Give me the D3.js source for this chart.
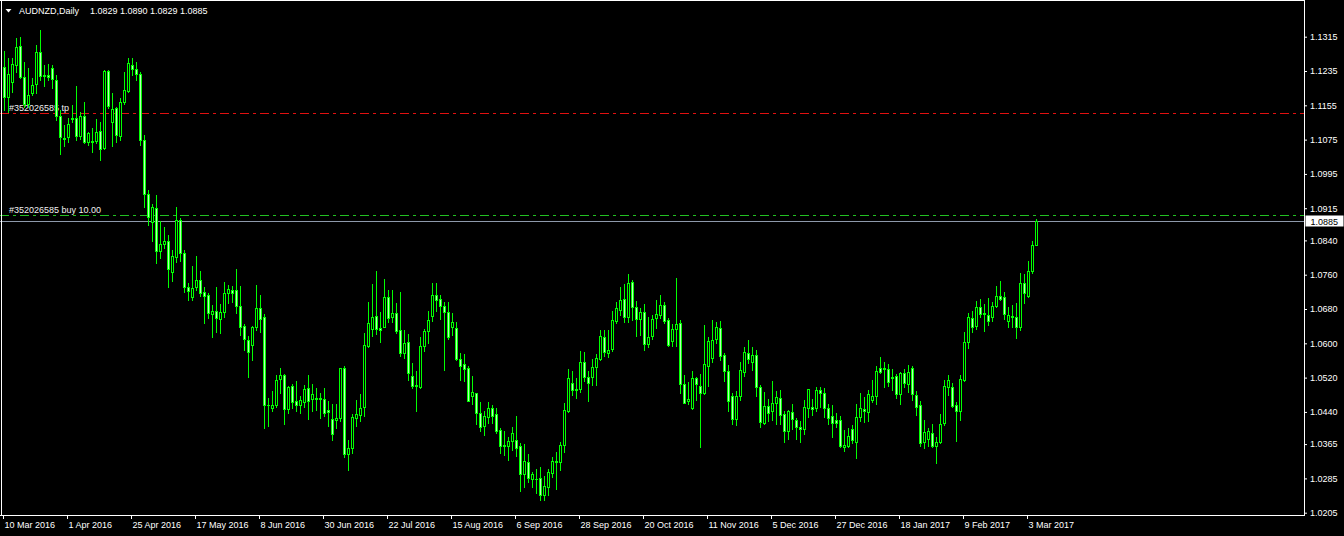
<!DOCTYPE html>
<html>
<head>
<meta charset="utf-8">
<script src="https://cdn.jsdelivr.net/npm/d3@7"></script>
<style>
  html, body { margin: 0; padding: 0; background: #000; }
  svg { display: block; }
  text { font-family: "Liberation Sans", Arial, sans-serif; font-size: 9px; }
</style>
</head>
<body>
<svg id="chart" width="1344" height="536"></svg>
<script>
// AUDNZD daily, 10 Mar 2016 .. 7 Mar 2017
const opens = [
  1.1245,1.1175,1.1210,1.1249,1.1293,1.1222,1.1157,1.1183,1.1204,1.1279,
  1.1224,1.1226,1.1241,1.1214,1.1129,1.1079,1.1080,1.1123,1.1125,1.1083,
  1.1130,1.1070,1.1070,1.1072,1.1095,1.1055,1.1235,1.1115,1.1148,1.1084,
  1.1163,1.1189,1.1249,1.1239,1.1228,1.1074,1.0948,1.0884,1.0915,1.0816,
  1.0832,1.0839,1.0767,1.0802,1.0888,1.0810,1.0732,1.0709,1.0731,1.0748,
  1.0719,1.0713,1.0668,1.0675,1.0656,1.0674,1.0717,1.0724,1.0724,1.0688,
  1.0640,1.0608,1.0596,1.0637,1.0683,1.0661,1.0455,1.0450,1.0455,1.0516,
  1.0526,1.0446,1.0500,1.0466,1.0455,1.0464,1.0496,1.0470,1.0472,1.0469,
  1.0471,1.0445,1.0423,1.0422,1.0426,1.0542,1.0343,1.0357,1.0427,1.0433,
  1.0451,1.0594,1.0633,1.0664,1.0636,1.0637,1.0707,1.0662,1.0670,1.0631,
  1.0578,1.0602,1.0524,1.0501,1.0499,1.0593,1.0629,1.0664,1.0712,1.0703,
  1.0688,1.0672,1.0637,1.0635,1.0563,1.0551,1.0542,1.0476,1.0483,1.0437,
  1.0408,1.0429,1.0449,1.0435,1.0398,1.0361,1.0361,1.0373,1.0374,1.0360,
  1.0295,1.0323,1.0284,1.0283,1.0285,1.0246,1.0266,1.0298,1.0326,1.0324,
  1.0364,1.0443,1.0507,1.0493,1.0493,1.0556,1.0521,1.0522,1.0544,1.0564,
  1.0614,1.0578,1.0587,1.0652,1.0678,1.0703,1.0662,1.0742,1.0685,1.0656,
  1.0672,1.0598,1.0618,1.0660,1.0666,1.0689,1.0654,1.0606,1.0634,1.0647,
  1.0505,1.0466,1.0448,1.0518,1.0501,1.0484,1.0548,1.0565,1.0609,1.0635,
  1.0573,1.0535,1.0477,1.0423,1.0476,1.0532,1.0577,1.0557,1.0573,1.0497,
  1.0415,1.0454,1.0441,1.0460,1.0473,1.0434,1.0396,1.0439,1.0421,1.0404,
  1.0400,1.0450,1.0451,1.0450,1.0491,1.0484,1.0448,1.0431,1.0421,1.0421,
  1.0359,1.0361,1.0400,1.0371,1.0429,1.0446,1.0439,1.0468,1.0476,1.0542,
  1.0540,1.0539,1.0520,1.0524,1.0481,1.0530,1.0505,1.0542,1.0479,1.0456,
  1.0370,1.0376,1.0392,1.0361,1.0369,1.0415,1.0497,1.0497,1.0456,1.0441,
  1.0514,1.0604,1.0658,1.0641,1.0684,1.0668,1.0665,1.0661,1.0688,1.0711,
  1.0707,1.0652,1.0662,1.0662,1.0639,1.0740,1.0711,1.0769,1.0829
];
const highs = [
  1.1282,1.1265,1.1266,1.1313,1.1314,1.1257,1.1241,1.1218,1.1296,1.1331,
  1.1249,1.1251,1.1249,1.1226,1.1144,1.1109,1.1125,1.1156,1.1200,1.1139,
  1.1162,1.1092,1.1103,1.1122,1.1117,1.1237,1.1237,1.1183,1.1150,1.1171,
  1.1233,1.1265,1.1265,1.1256,1.1233,1.1086,1.0958,1.0925,1.0946,1.0886,
  1.0871,1.0853,1.0818,1.0917,1.0892,1.0818,1.0740,1.0780,1.0804,1.0769,
  1.0731,1.0718,1.0689,1.0731,1.0691,1.0742,1.0736,1.0734,1.0773,1.0734,
  1.0644,1.0618,1.0640,1.0736,1.0712,1.0668,1.0472,1.0489,1.0526,1.0543,
  1.0529,1.0501,1.0505,1.0512,1.0476,1.0502,1.0526,1.0505,1.0495,1.0485,
  1.0496,1.0466,1.0458,1.0458,1.0543,1.0547,1.0375,1.0435,1.0468,1.0482,
  1.0623,1.0697,1.0738,1.0769,1.0672,1.0750,1.0724,1.0724,1.0695,1.0719,
  1.0631,1.0621,1.0555,1.0535,1.0614,1.0634,1.0675,1.0741,1.0741,1.0713,
  1.0697,1.0697,1.0671,1.0649,1.0577,1.0575,1.0547,1.0524,1.0485,1.0462,
  1.0442,1.0462,1.0456,1.0448,1.0402,1.0395,1.0382,1.0404,1.0431,1.0367,
  1.0365,1.0343,1.0299,1.0307,1.0312,1.0291,1.0306,1.0336,1.0346,1.0369,
  1.0460,1.0540,1.0535,1.0518,1.0582,1.0579,1.0535,1.0563,1.0575,1.0631,
  1.0631,1.0631,1.0675,1.0697,1.0732,1.0738,1.0762,1.0748,1.0699,1.0683,
  1.0692,1.0661,1.0666,1.0701,1.0713,1.0697,1.0658,1.0645,1.0752,1.0654,
  1.0526,1.0510,1.0535,1.0521,1.0529,1.0643,1.0615,1.0654,1.0650,1.0652,
  1.0577,1.0549,1.0483,1.0489,1.0557,1.0592,1.0608,1.0592,1.0584,1.0503,
  1.0487,1.0470,1.0512,1.0489,1.0491,1.0441,1.0445,1.0458,1.0425,1.0419,
  1.0468,1.0494,1.0470,1.0497,1.0497,1.0495,1.0458,1.0456,1.0437,1.0431,
  1.0398,1.0403,1.0410,1.0458,1.0483,1.0474,1.0491,1.0514,1.0547,1.0569,
  1.0557,1.0552,1.0539,1.0528,1.0534,1.0539,1.0549,1.0547,1.0489,1.0465,
  1.0421,1.0403,1.0413,1.0382,1.0435,1.0514,1.0526,1.0507,1.0464,1.0526,
  1.0627,1.0670,1.0675,1.0699,1.0703,1.0691,1.0705,1.0697,1.0734,1.0745,
  1.0719,1.0684,1.0689,1.0693,1.0763,1.0762,1.0792,1.0839,1.0890
];
const lows = [
  1.1144,1.1139,1.1187,1.1233,1.1218,1.1150,1.1152,1.1179,1.1183,1.1214,
  1.1201,1.1214,1.1195,1.1121,1.1041,1.1059,1.1070,1.1117,1.1074,1.1076,
  1.1066,1.1062,1.1047,1.1066,1.1028,1.1053,1.1148,1.1059,1.1069,1.1074,
  1.1157,1.1187,1.1226,1.1214,1.1062,1.0918,1.0876,1.0839,1.0787,1.0798,
  1.0822,1.0732,1.0746,1.0790,1.0793,1.0720,1.0701,1.0701,1.0724,1.0710,
  1.0647,1.0658,1.0615,1.0627,1.0625,1.0662,1.0693,1.0697,1.0670,1.0619,
  1.0584,1.0522,1.0560,1.0631,1.0627,1.0403,1.0407,1.0441,1.0452,1.0483,
  1.0413,1.0437,1.0448,1.0443,1.0438,1.0452,1.0423,1.0443,1.0445,1.0427,
  1.0431,1.0408,1.0375,1.0402,1.0419,1.0336,1.0305,1.0345,1.0408,1.0420,
  1.0431,1.0591,1.0617,1.0621,1.0604,1.0637,1.0650,1.0650,1.0623,1.0571,
  1.0565,1.0514,1.0496,1.0443,1.0495,1.0583,1.0600,1.0652,1.0676,1.0657,
  1.0538,1.0611,1.0619,1.0560,1.0514,1.0512,1.0465,1.0458,1.0412,1.0396,
  1.0386,1.0414,1.0414,1.0391,1.0345,1.0340,1.0328,1.0351,1.0338,1.0256,
  1.0266,1.0277,1.0264,1.0250,1.0235,1.0235,1.0246,1.0289,1.0260,1.0305,
  1.0347,1.0439,1.0480,1.0473,1.0487,1.0511,1.0466,1.0503,1.0503,1.0560,
  1.0570,1.0569,1.0583,1.0647,1.0666,1.0650,1.0650,1.0654,1.0618,1.0619,
  1.0584,1.0592,1.0610,1.0635,1.0658,1.0647,1.0594,1.0594,1.0594,1.0483,
  1.0460,1.0458,1.0447,1.0468,1.0359,1.0482,1.0501,1.0557,1.0600,1.0561,
  1.0512,1.0441,1.0412,1.0410,1.0468,1.0524,1.0554,1.0538,1.0476,1.0406,
  1.0412,1.0419,1.0421,1.0411,1.0411,1.0371,1.0378,1.0400,1.0377,1.0369,
  1.0389,1.0429,1.0433,1.0441,1.0452,1.0429,1.0412,1.0381,1.0406,1.0358,
  1.0350,1.0358,1.0367,1.0332,1.0420,1.0417,1.0420,1.0462,1.0458,1.0530,
  1.0499,1.0500,1.0491,1.0472,1.0458,1.0497,1.0487,1.0468,1.0433,1.0360,
  1.0355,1.0360,1.0358,1.0320,1.0367,1.0410,1.0480,1.0452,1.0373,1.0421,
  1.0513,1.0590,1.0627,1.0633,1.0662,1.0629,1.0643,1.0653,1.0684,1.0701,
  1.0656,1.0637,1.0639,1.0612,1.0631,1.0693,1.0709,1.0765,1.0829
];
const closes = [
  1.1175,1.1227,1.1251,1.1292,1.1222,1.1157,1.1179,1.1202,1.1279,1.1224,
  1.1226,1.1221,1.1216,1.1131,1.1080,1.1076,1.1111,1.1126,1.1084,1.1130,
  1.1070,1.1090,1.1072,1.1092,1.1052,1.1235,1.1154,1.1146,1.1086,1.1162,
  1.1191,1.1254,1.1239,1.1228,1.1074,1.0948,1.0895,1.0917,1.0816,1.0832,
  1.0839,1.0774,1.0804,1.0888,1.0810,1.0732,1.0723,1.0728,1.0748,1.0718,
  1.0710,1.0671,1.0675,1.0658,1.0672,1.0717,1.0727,1.0718,1.0688,1.0637,
  1.0609,1.0580,1.0639,1.0682,1.0656,1.0455,1.0456,1.0456,1.0514,1.0526,
  1.0446,1.0499,1.0464,1.0455,1.0468,1.0493,1.0466,1.0482,1.0469,1.0472,
  1.0438,1.0439,1.0389,1.0426,1.0542,1.0341,1.0356,1.0428,1.0435,1.0449,
  1.0596,1.0647,1.0661,1.0634,1.0632,1.0707,1.0660,1.0671,1.0629,1.0578,
  1.0600,1.0530,1.0501,1.0502,1.0593,1.0629,1.0654,1.0712,1.0701,1.0688,
  1.0674,1.0615,1.0649,1.0563,1.0547,1.0540,1.0466,1.0486,1.0438,1.0406,
  1.0431,1.0449,1.0431,1.0396,1.0361,1.0364,1.0372,1.0392,1.0357,1.0295,
  1.0326,1.0285,1.0295,1.0284,1.0246,1.0267,1.0299,1.0326,1.0323,1.0363,
  1.0445,1.0518,1.0491,1.0492,1.0556,1.0522,1.0507,1.0544,1.0565,1.0618,
  1.0580,1.0584,1.0654,1.0682,1.0701,1.0661,1.0740,1.0684,1.0656,1.0672,
  1.0598,1.0614,1.0656,1.0668,1.0689,1.0652,1.0596,1.0633,1.0644,1.0505,
  1.0461,1.0471,1.0518,1.0505,1.0484,1.0551,1.0606,1.0608,1.0637,1.0571,
  1.0536,1.0466,1.0423,1.0477,1.0538,1.0579,1.0563,1.0573,1.0497,1.0417,
  1.0454,1.0437,1.0460,1.0474,1.0433,1.0396,1.0442,1.0423,1.0406,1.0400,
  1.0451,1.0493,1.0447,1.0490,1.0484,1.0448,1.0425,1.0414,1.0414,1.0361,
  1.0363,1.0385,1.0375,1.0428,1.0448,1.0441,1.0481,1.0477,1.0535,1.0534,
  1.0542,1.0509,1.0522,1.0481,1.0531,1.0507,1.0532,1.0481,1.0452,1.0368,
  1.0394,1.0395,1.0361,1.0369,1.0413,1.0500,1.0514,1.0454,1.0441,1.0516,
  1.0602,1.0661,1.0639,1.0684,1.0668,1.0670,1.0653,1.0688,1.0711,1.0703,
  1.0668,1.0665,1.0663,1.0639,1.0740,1.0717,1.0769,1.0829,1.0885
];

// time scale labels, one every 16 bars
const dateLabels = ["10 Mar 2016","1 Apr 2016","25 Apr 2016","17 May 2016","8 Jun 2016",
  "30 Jun 2016","22 Jul 2016","15 Aug 2016","6 Sep 2016","28 Sep 2016","20 Oct 2016",
  "11 Nov 2016","5 Dec 2016","27 Dec 2016","18 Jan 2017","9 Feb 2017","3 Mar 2017"];
const labelStep = 16;

// price scale labels
const priceTicks = [1.1315,1.1235,1.1155,1.1075,1.0995,1.0915,1.0840,1.0760,
  1.0680,1.0600,1.0520,1.0440,1.0365,1.0285,1.0205];

// order levels
const tpPrice = 1.1136;
const buyPrice = 1.08985;
const bidPrice = 1.0885;
const orderId = "#352026585";
const header = ["AUDNZD,Daily", "1.0829 1.0890 1.0829 1.0885"];

const width = 1344, height = 536;
const plotRight = 1304, plotBottom = 515;
const lime = "#00ff00";
const bearFill = "#b8ffb8";

const svg = d3.select("#chart");
svg.append("rect").attr("width", width).attr("height", height).attr("fill", "#000");

const x = d3.scaleLinear().domain([0, opens.length - 1]).range([3, 3 + 4 * (opens.length - 1)]);
const y = d3.scaleLinear().domain([1.0205, 1.1315]).range([512.7, 36.7]);
const py = v => Math.round(y(v));

// order lines
const lines = svg.append("g");
lines.append("line")
  .attr("x1", 0).attr("x2", plotRight)
  .attr("y1", py(tpPrice) + 0.5).attr("y2", py(tpPrice) + 0.5)
  .attr("stroke", "#e01010").attr("stroke-dasharray", "9,4,3,4");
lines.append("line")
  .attr("x1", 0).attr("x2", plotRight)
  .attr("y1", py(buyPrice) + 0.5).attr("y2", py(buyPrice) + 0.5)
  .attr("stroke", "#22c022").attr("stroke-dasharray", "9,4,3,4");
lines.append("line")
  .attr("x1", 0).attr("x2", plotRight)
  .attr("y1", py(bidPrice) + 0.5).attr("y2", py(bidPrice) + 0.5)
  .attr("stroke", "#8d99aa");

svg.append("text").attr("x", 9).attr("y", py(tpPrice) - 2.5)
  .attr("fill", "#f0f0f0").text(orderId + " tp");
svg.append("text").attr("x", 9).attr("y", py(buyPrice) - 2.5)
  .attr("fill", "#f0f0f0").text(orderId + " buy 10.00");

// candles
const bars = d3.range(opens.length).map(i => ({
  i, o: opens[i], h: highs[i], l: lows[i], c: closes[i]
}));

const candle = svg.append("g").selectAll("g").data(bars).join("g");

candle.append("line")
  .attr("x1", d => x(d.i) + 1.5).attr("x2", d => x(d.i) + 1.5)
  .attr("y1", d => py(d.h)).attr("y2", d => py(d.l) + 1)
  .attr("stroke", lime);

candle.each(function(d) {
  const g = d3.select(this);
  const top = py(Math.max(d.o, d.c));
  const bot = py(Math.min(d.o, d.c));
  if (bot === top) {
    g.append("line")
      .attr("x1", x(d.i)).attr("x2", x(d.i) + 3)
      .attr("y1", top + 0.5).attr("y2", top + 0.5)
      .attr("stroke", lime);
  } else {
    g.append("rect")
      .attr("x", x(d.i) + 0.5).attr("width", 2)
      .attr("y", top + 0.5).attr("height", bot - top)
      .attr("fill", d.c < d.o ? bearFill : "#000000")
      .attr("stroke", lime);
  }
});

// frame
const frame = svg.append("g").attr("stroke", "#fff").attr("shape-rendering", "crispEdges");
frame.append("line").attr("x1", 0).attr("x2", plotRight + 1).attr("y1", 0.5).attr("y2", 0.5);
frame.append("line").attr("x1", 1.5).attr("x2", 1.5).attr("y1", 0).attr("y2", plotBottom + 1);
frame.append("line").attr("x1", plotRight + 0.5).attr("x2", plotRight + 0.5).attr("y1", 0).attr("y2", plotBottom + 1);
frame.append("line").attr("x1", 0).attr("x2", plotRight + 1).attr("y1", plotBottom + 0.5).attr("y2", plotBottom + 0.5);

// price axis
const yAxis = d3.axisRight(y).tickValues(priceTicks).tickSize(3).tickPadding(3)
  .tickFormat(d3.format(".4f"));
const yg = svg.append("g").attr("transform", `translate(${plotRight},0)`).call(yAxis);
yg.select(".domain").remove();
yg.selectAll("line").attr("stroke", "#fff");
yg.selectAll("text").attr("fill", "#fff").attr("font-size", null).attr("font-family", null);

// bid price tag
svg.append("rect").attr("x", plotRight + 1.5).attr("y", py(bidPrice) - 5.5)
  .attr("width", 38).attr("height", 11).attr("fill", "#fff");
svg.append("text").attr("x", plotRight + 6.5).attr("y", py(bidPrice) + 3.5)
  .attr("fill", "#000").text(d3.format(".4f")(bidPrice));

// time axis
const tickIdx = dateLabels.map((_, k) => k * labelStep);
const xAxis = d3.axisBottom(x).tickValues(tickIdx).tickSize(4).tickPadding(3)
  .tickFormat((d, k) => dateLabels[k]);
const xg = svg.append("g").attr("transform", `translate(0,${plotBottom})`).call(xAxis);
xg.select(".domain").remove();
xg.selectAll("line").attr("stroke", "#fff");
xg.selectAll("text").attr("fill", "#fff").attr("text-anchor", "start").attr("x", 1)
  .attr("font-size", null).attr("font-family", null);

// header
svg.append("path").attr("d", "M5.5,9 L11.5,9 L8.5,12.5 Z").attr("fill", "#fff");
svg.append("text").attr("x", 19).attr("y", 14).attr("fill", "#fff").text(header[0]);
svg.append("text").attr("x", 90).attr("y", 14).attr("fill", "#fff").text(header[1]);
</script>
</body>
</html>
